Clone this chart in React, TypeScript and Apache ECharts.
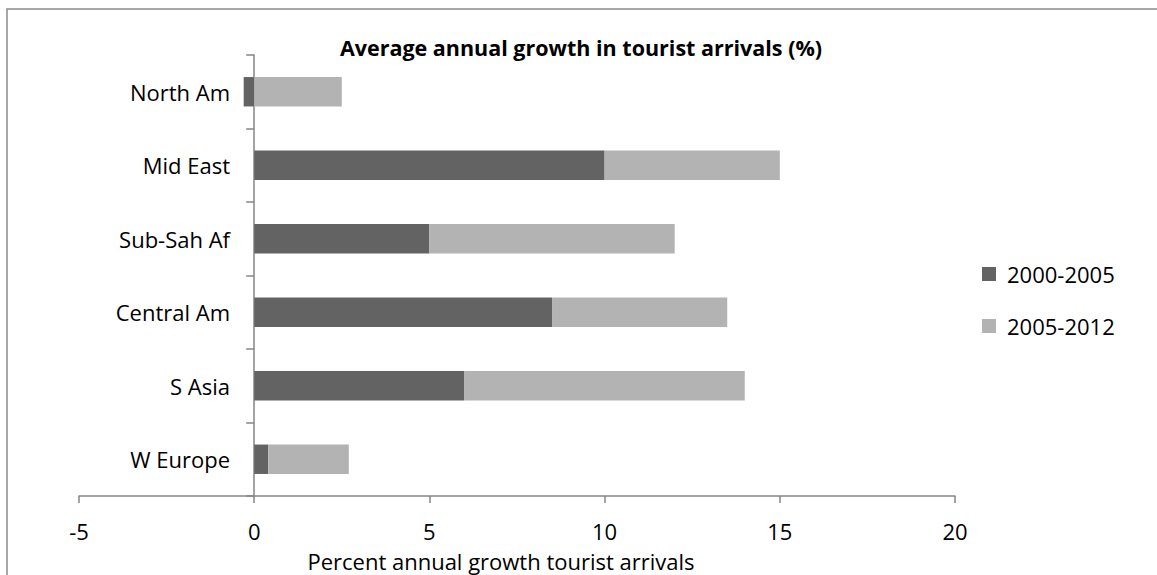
import React, { useEffect, useRef } from "react";
import * as echarts from "echarts";

const categories = ["North Am", "Mid East", "Sub-Sah Af", "Central Am", "S Asia", "W Europe"];
const series2000_2005 = [-0.3, 10, 5, 8.5, 6, 0.4];
const series2005_2012 = [2.5, 5, 7, 5, 8, 2.3];
const seriesNames = ["2000-2005", "2005-2012"];
const xTicks = { min: -5, max: 20, interval: 5 };
const titleText = "Average annual growth in tourist arrivals (%)";
const xAxisTitle = "Percent annual growth tourist arrivals";

const FONT = "'Open Sans', 'Noto Sans', sans-serif";

export default function App() {
  const ref = useRef<HTMLDivElement>(null);
  useEffect(() => {
    document.body.style.margin = "0";
    const chart = echarts.init(ref.current!, null, { renderer: "svg" });
    chart.setOption({
      animation: false,
      backgroundColor: "#ffffff",
      textStyle: { fontFamily: FONT },
      title: {
        text: titleText,
        left: 576,
        top: 31,
        textAlign: "center",
        textStyle: { fontFamily: FONT, fontSize: 21.5, fontWeight: "bold", color: "#000" },
      },
      legend: {
        orient: "vertical",
        left: 977,
        top: 258,
        itemWidth: 14,
        itemHeight: 14,
        itemGap: 30,
        icon: "rect",
        data: seriesNames,
        textStyle: { fontFamily: FONT, fontSize: 22, color: "#000", padding: [0, 0, 0, 6] },
      },
      grid: { left: 79, right: 202, top: 55, bottom: 79, outerBoundsMode: "none", containLabel: false },
      xAxis: {
        type: "value",
        min: xTicks.min,
        max: xTicks.max,
        interval: xTicks.interval,
        axisLine: { show: true, onZero: false, lineStyle: { color: "#868686", width: 1.5 } },
        axisTick: { show: true, length: 7, lineStyle: { color: "#868686", width: 1.5 } },
        axisLabel: { fontFamily: FONT, fontSize: 22, color: "#000", margin: 24 },
        splitLine: { show: false },
      },
      yAxis: {
        type: "category",
        inverse: true,
        data: categories,
        axisLine: { show: true, onZero: true, lineStyle: { color: "#868686", width: 1.5 } },
        axisTick: { show: true, length: 8, lineStyle: { color: "#868686", width: 1.5 } },
        axisLabel: { fontFamily: FONT, fontSize: 22, color: "#000", margin: -151 },
      },
      graphic: [
        {
          type: "rect",
          shape: { x: 7, y: 9, width: 1200, height: 600 },
          style: { fill: "none", stroke: "#8c8c8c", lineWidth: 1.5 },
          silent: true,
          z: -1,
        },
        {
          type: "text",
          x: 501,
          y: 561,
          style: {
            text: xAxisTitle,
            fontFamily: FONT,
            fontSize: 22,
            fill: "#000",
            align: "center",
            verticalAlign: "middle",
          },
        },
      ],
      series: [
        {
          name: seriesNames[0],
          type: "bar",
          stack: "total",
          barWidth: "40%",
          itemStyle: { color: "#636363" },
          data: series2000_2005,
        },
        {
          name: seriesNames[1],
          type: "bar",
          stack: "total",
          barWidth: "40%",
          itemStyle: { color: "#b3b3b3" },
          data: series2005_2012,
        },
      ],
    });
    return () => chart.dispose();
  }, []);
  return <div ref={ref} style={{ width: 1157, height: 575 }} />;
}
